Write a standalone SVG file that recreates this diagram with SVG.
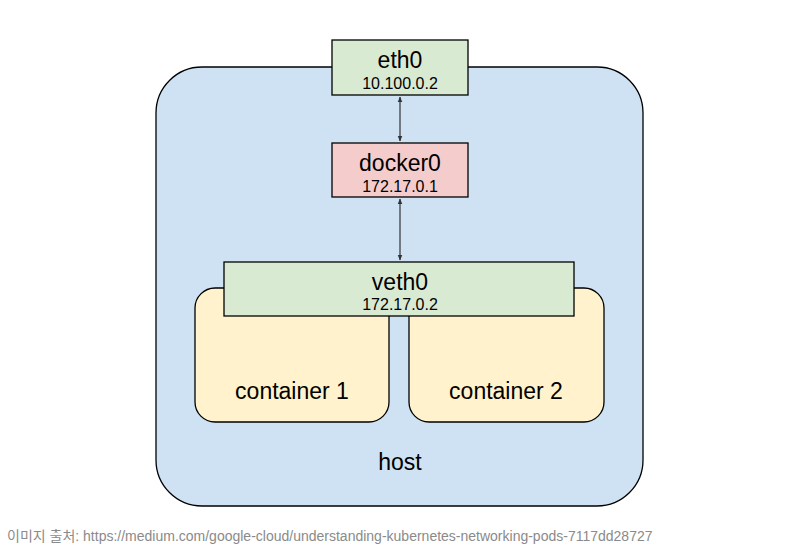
<svg xmlns="http://www.w3.org/2000/svg" width="800" height="550" viewBox="0 0 800 550">
<style>
text{font-family:"Liberation Sans",Arial,sans-serif;fill:#000;text-anchor:middle}
.box{stroke:#000;stroke-width:1.3}
.t{font-size:23px}
.s{font-size:16px}
.c{font-size:23px}
.foot{font-size:14px;fill:#8a8a8a;text-anchor:start;font-family:"Liberation Sans","Noto Sans CJK KR",sans-serif}
.conn{stroke:#333;stroke-width:1.2;fill:none}
</style>
<defs>
<marker id="ah" viewBox="0 0 10 10" refX="9" refY="5" markerWidth="5" markerHeight="5" orient="auto-start-reverse">
<path d="M0,1 L10,5 L0,9 Z" fill="#333"/>
</marker>
</defs>
<rect width="800" height="550" fill="#fff"/>
<g id="host">
<rect class="box" x="156" y="67" width="487" height="439" rx="46" ry="46" fill="#cfe2f3"/>
<text class="t" x="400" y="470">host</text>
</g>
<g id="container1">
<rect class="box" x="195" y="288" width="194" height="134" rx="20" ry="20" fill="#fff2cc"/>
<text class="c" x="292" y="399">container 1</text>
</g>
<g id="container2">
<rect class="box" x="409" y="288" width="195" height="134" rx="20" ry="20" fill="#fff2cc"/>
<text class="c" x="506" y="399">container 2</text>
</g>
<g id="eth0">
<rect class="box" x="332" y="40" width="136" height="55" fill="#d9ead3"/>
<text class="t" x="400" y="68">eth0</text>
<text class="s" x="400" y="89">10.100.0.2</text>
</g>
<g id="docker0">
<rect class="box" x="332" y="143" width="136" height="54" fill="#f4cccc"/>
<text class="t" x="400" y="171">docker0</text>
<text class="s" x="400" y="192">172.17.0.1</text>
</g>
<g id="veth0">
<rect class="box" x="224" y="262" width="350" height="54" fill="#d9ead3"/>
<text class="t" x="400" y="290">veth0</text>
<text class="s" x="400" y="310">172.17.0.2</text>
</g>
<g id="connectors">
<line class="conn" x1="400" y1="97" x2="400" y2="141" marker-start="url(#ah)" marker-end="url(#ah)"/>
<line class="conn" x1="400" y1="199" x2="400" y2="260" marker-start="url(#ah)" marker-end="url(#ah)"/>
</g>
<text class="foot" x="7" y="541">이미지 출처: https://medium.com/google-cloud/understanding-kubernetes-networking-pods-7117dd28727</text>
</svg>
